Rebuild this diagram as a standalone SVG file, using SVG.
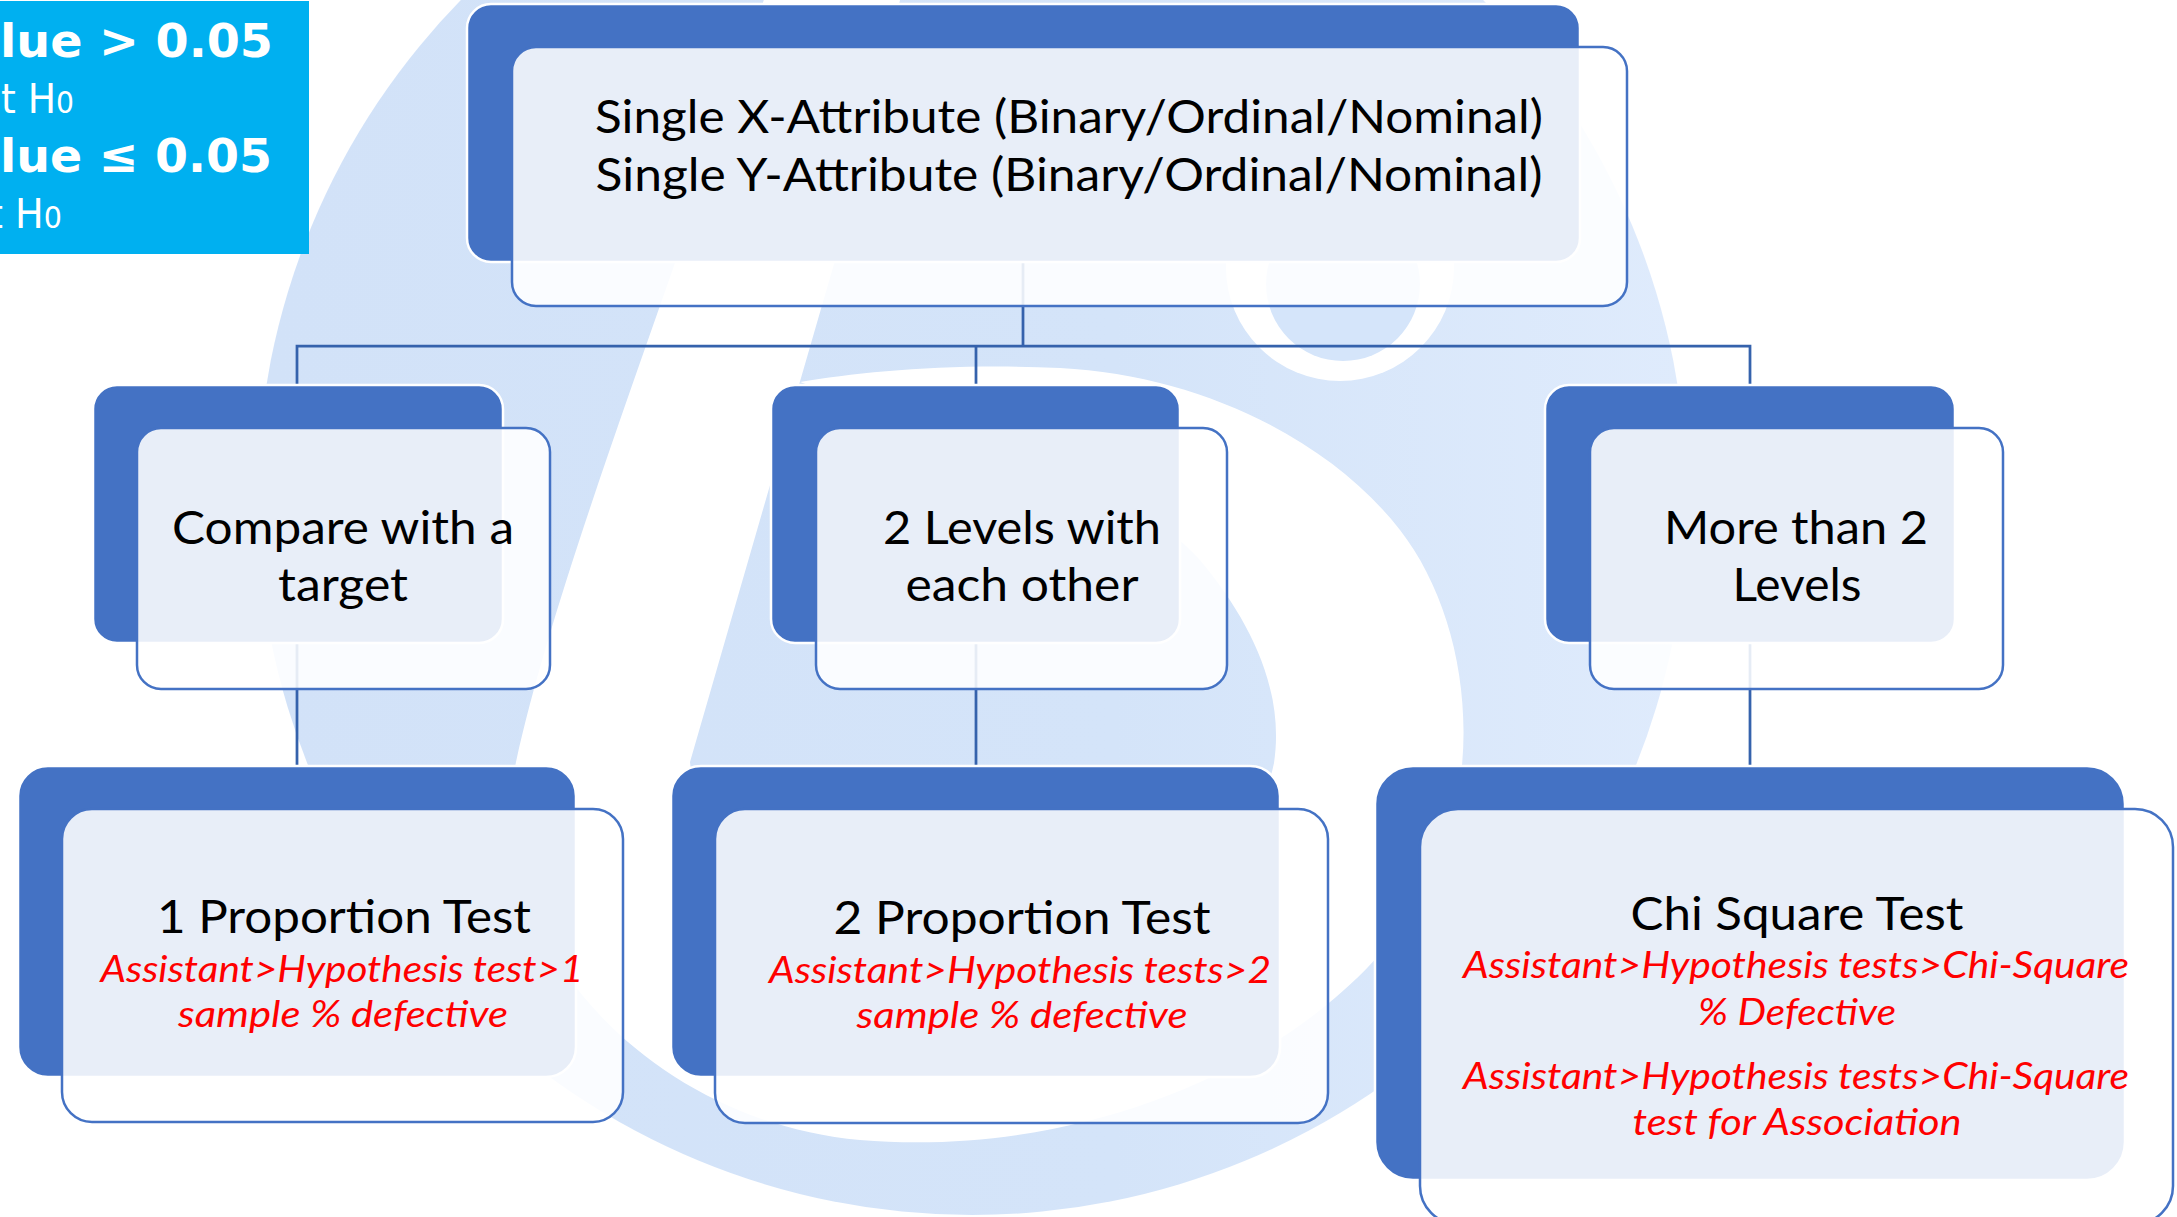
<svg xmlns="http://www.w3.org/2000/svg" width="2177" height="1217" viewBox="0 0 2177 1217">
<defs>
<linearGradient id="wm" x1="265" y1="0" x2="1680" y2="0" gradientUnits="userSpaceOnUse">
<stop offset="0" stop-color="#D2E2F8"/>
<stop offset="0.6" stop-color="#D4E4F9"/>
<stop offset="1" stop-color="#DFEBFC"/>
</linearGradient>
<style>
.back{fill:#4472C4;stroke:#FFFFFF;stroke-width:2.5}
.front{fill:#FFFFFF;fill-opacity:0.88;stroke:#4472C4;stroke-width:2.5}
.conn{fill:none;stroke:#3562AC;stroke-width:2.75}
.t{font-family:Lato,Carlito,"Liberation Sans",sans-serif;font-size:46px;fill:#000000;text-anchor:middle}
.r{font-family:Lato,Carlito,"Liberation Sans",sans-serif;font-size:37px;font-style:italic;fill:#FF0000;text-anchor:middle}
.pb{font-family:"DejaVu Sans",Verdana,sans-serif;font-size:47px;font-weight:bold;fill:#FFFFFF}
.pr{font-family:"DejaVu Sans",Verdana,sans-serif;font-size:40px;fill:#FFFFFF}
</style>
</defs>
<rect x="0" y="0" width="2177" height="1217" fill="#FFFFFF"/>
<g id="watermark">
<circle cx="972" cy="500" r="715" fill="url(#wm)"/>
<path fill="#FFFFFF" d="M770,-20 C690,240 560,560 516,762 C480,930 640,1120 860,1140 C1100,1160 1330,1050 1420,900 C1490,780 1470,620 1400,530 C1330,440 1200,375 1060,368 C950,363 860,372 800,382 C900,420 1120,470 1200,560 C1250,620 1285,690 1274,763 C1250,880 1120,962 982,962 C840,962 700,880 690,762 L838,250 L905,-20 Z"/>
<circle cx="1340" cy="267" r="114" fill="#FFFFFF"/>
<circle cx="1343" cy="284" r="77" fill="#D5E5FA"/>
</g>
<g id="connectors">
<path class="conn" d="M1023,262 V346"/>
<path class="conn" d="M297,385 V346 H1750 V385"/>
<path class="conn" d="M976,346 V385"/>
<path class="conn" d="M297,643 V766"/>
<path class="conn" d="M976,643 V766"/>
<path class="conn" d="M1750,643 V766"/>
</g>
<g id="node-root">
<rect class="back" x="467" y="4" width="1113" height="258" rx="24"/>
<rect class="front" x="512" y="47" width="1115" height="259" rx="24"/>
<text class="t" x="1069" y="133" textLength="948" lengthAdjust="spacingAndGlyphs">Single X-Attribute (Binary/Ordinal/Nominal)</text>
<text class="t" x="1069" y="191" textLength="947" lengthAdjust="spacingAndGlyphs">Single Y-Attribute (Binary/Ordinal/Nominal)</text>
</g>
<g id="node-target">
<rect class="back" x="93" y="385" width="410" height="258" rx="24"/>
<rect class="front" x="137" y="428" width="413" height="261" rx="24"/>
<text class="t" x="343" y="544" textLength="342" lengthAdjust="spacingAndGlyphs">Compare with a</text>
<text class="t" x="343" y="601" textLength="130" lengthAdjust="spacingAndGlyphs">target</text>
</g>
<g id="node-two-levels">
<rect class="back" x="771" y="385" width="409" height="258" rx="24"/>
<rect class="front" x="816" y="428" width="411" height="261" rx="24"/>
<text class="t" x="1022" y="544" textLength="278" lengthAdjust="spacingAndGlyphs">2 Levels with</text>
<text class="t" x="1022" y="601" textLength="233" lengthAdjust="spacingAndGlyphs">each other</text>
</g>
<g id="node-more-levels">
<rect class="back" x="1545" y="385" width="410" height="258" rx="24"/>
<rect class="front" x="1590" y="428" width="413" height="261" rx="24"/>
<text class="t" x="1796" y="544" textLength="264" lengthAdjust="spacingAndGlyphs">More than 2</text>
<text class="t" x="1797" y="601" textLength="129" lengthAdjust="spacingAndGlyphs">Levels</text>
</g>
<g id="node-one-prop">
<rect class="back" x="18" y="766" width="558" height="311" rx="30"/>
<rect class="front" x="62" y="809" width="561" height="313" rx="30"/>
<text class="t" x="344" y="933" textLength="374" lengthAdjust="spacingAndGlyphs">1 Proportion Test</text>
<text class="r" x="342" y="982" textLength="483" lengthAdjust="spacingAndGlyphs">Assistant&gt;Hypothesis test&gt;1</text>
<text class="r" x="343" y="1027" textLength="330" lengthAdjust="spacingAndGlyphs">sample % defective</text>
</g>
<g id="node-two-prop">
<rect class="back" x="671" y="766" width="609" height="311" rx="30"/>
<rect class="front" x="715" y="809" width="613" height="314" rx="30"/>
<text class="t" x="1022" y="934" textLength="377" lengthAdjust="spacingAndGlyphs">2 Proportion Test</text>
<text class="r" x="1020" y="983" textLength="502" lengthAdjust="spacingAndGlyphs">Assistant&gt;Hypothesis tests&gt;2</text>
<text class="r" x="1022" y="1028" textLength="331" lengthAdjust="spacingAndGlyphs">sample % defective</text>
</g>
<g id="node-chi">
<rect class="back" x="1375" y="766" width="750" height="414" rx="38"/>
<rect class="front" x="1420" y="809" width="753" height="415" rx="38"/>
<text class="t" x="1797" y="930" textLength="333" lengthAdjust="spacingAndGlyphs">Chi Square Test</text>
<text class="r" x="1796" y="978" textLength="666" lengthAdjust="spacingAndGlyphs">Assistant&gt;Hypothesis tests&gt;Chi-Square</text>
<text class="r" x="1797" y="1025" textLength="198" lengthAdjust="spacingAndGlyphs">% Defective</text>
<text class="r" x="1796" y="1089" textLength="666" lengthAdjust="spacingAndGlyphs">Assistant&gt;Hypothesis tests&gt;Chi-Square</text>
<text class="r" x="1797" y="1135" textLength="329" lengthAdjust="spacingAndGlyphs">test for Association</text>
</g>
<g id="legend">
<rect x="-5" y="1" width="314" height="253" fill="#00B0F0"/>
<text class="pb" x="0" y="57" textLength="273" lengthAdjust="spacingAndGlyphs">lue &gt; 0.05</text>
<text class="pr" x="1" y="113" textLength="73" lengthAdjust="spacingAndGlyphs">t H<tspan font-size="30">0</tspan></text>
<text class="pb" x="0" y="172" textLength="272" lengthAdjust="spacingAndGlyphs">lue ≤ 0.05</text>
<text class="pr" x="-12" y="228" textLength="74" lengthAdjust="spacingAndGlyphs">t H<tspan font-size="30">0</tspan></text>
</g>
</svg>
